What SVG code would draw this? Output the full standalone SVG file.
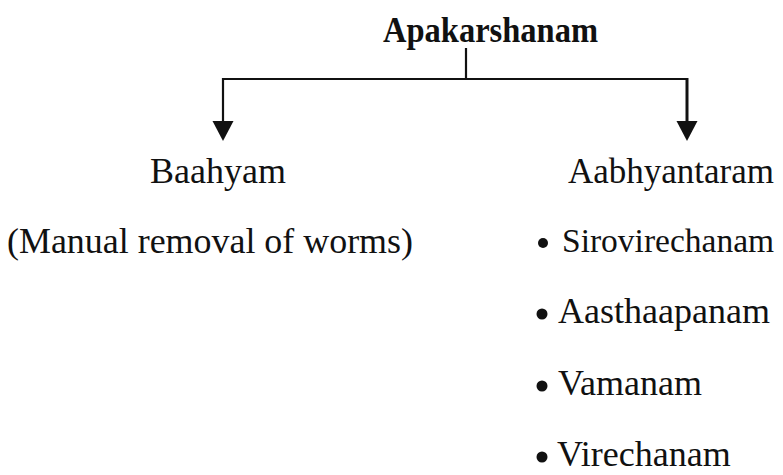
<svg xmlns="http://www.w3.org/2000/svg" width="783" height="475" viewBox="0 0 783 475">
<style>
.t{font-family:"Liberation Serif","Times New Roman",serif;font-size:36px;fill:#111;}
.b{font-weight:bold;}
.ln{stroke:#111;stroke-width:2.2;fill:none;}
.dot{fill:#111;}
</style>
<defs>
<marker id="ah" markerUnits="userSpaceOnUse" markerWidth="21" markerHeight="22" refX="0" refY="10.5" orient="auto" viewBox="0 0 21 21" overflow="visible">
<path d="M0,0 L20,10.5 L0,21 z" fill="#111"/>
</marker>
</defs>
<rect width="783" height="475" fill="#fff"/>
<g id="connectors">
<line class="ln" x1="466" y1="48" x2="466" y2="79"/>
<line class="ln" x1="222" y1="79" x2="688" y2="79"/>
<line class="ln" x1="223" y1="78" x2="223" y2="121" marker-end="url(#ah)"/>
<line class="ln" x1="687" y1="78" x2="687" y2="121" style="stroke-width:3" marker-end="url(#ah)"/>
</g>
<g id="apakarshanam">
<text class="t b" x="383" y="42" textLength="215" lengthAdjust="spacingAndGlyphs">Apakarshanam</text>
</g>
<g id="baahyam">
<text class="t" x="150" y="183">Baahyam</text>
<text class="t" x="7" y="253" textLength="406" lengthAdjust="spacingAndGlyphs">(Manual removal of worms)</text>
</g>
<g id="aabhyantaram">
<text class="t" x="568" y="183" style="font-size:35px">Aabhyantaram</text>
<circle class="dot" cx="543" cy="243" r="5"/>
<text class="t" x="562" y="252" style="font-size:33.5px">Sirovirechanam</text>
<circle class="dot" cx="542" cy="314" r="5.5"/>
<text class="t" x="558" y="323">Aasthaapanam</text>
<circle class="dot" cx="542" cy="386" r="5.5"/>
<text class="t" x="558" y="395">Vamanam</text>
<circle class="dot" cx="542" cy="457" r="5.5"/>
<text class="t" x="557" y="466">Virechanam</text>
</g>
</svg>
